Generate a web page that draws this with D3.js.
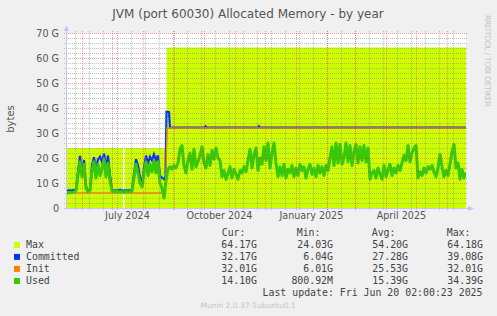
<!DOCTYPE html>
<html><head><meta charset="utf-8">
<script src="https://cdn.jsdelivr.net/npm/d3@7"></script>
<style>html,body{margin:0;padding:0;background:#F0F0F0}svg{display:block}</style>
</head><body>
<svg id="c" width="497" height="316"></svg>
<script>
// ---------------- data ----------------
const titleText = "JVM (port 60030) Allocated Memory - by year";
const yAxisLabel = "bytes";
const endTime = new Date(Date.UTC(2025, 5, 20, 2, 0, 23));
const spanDays = 400;
const usedStepDays = 2;
const yTickValues = [0, 10, 20, 30, 40, 50, 60, 70];
const yTickLabels = ["0", "10 G", "20 G", "30 G", "40 G", "50 G", "60 G", "70 G"];
const xLabelDates = ["2024-07-16", "2024-10-16", "2025-01-16", "2025-04-16"];
const xTickLabels = ["July 2024", "October 2024", "January 2025", "April 2025"];

const seriesNames = ["Max", "Committed", "Init", "Used"];
const statCur = ["64.17G", "32.17G", "32.01G", "14.10G"];
const statMin = ["24.03G", "6.04G", "6.01G", "800.92M"];
const statAvg = ["54.20G", "27.28G", "25.53G", "15.39G"];
const statMax = ["64.18G", "39.08G", "32.01G", "34.39G"];
const lastUpdate = "Last update: Fri Jun 20 02:00:23 2025";
const versionText = "Munin 2.0.37-1ubuntu0.1";
const vendorText = "RRDTOOL / TOBI OETIKER";

// Max (GB) — breakpoints (day offset from start)
const maxDay = [0, 57, 57, 58.7, 100.5, 100.5, 400];
const maxVal = [24.03, 24.03, null, 24.03, 24.03, 64.17, 64.17];

// Init (GB)
const initDay = [0, 99.5, 101, 400];
const initVal = [6.01, 6.01, 32.01, 32.01];

// Committed (GB)
const committedDay = [0,2,4,6,8,10,12,14,16,18,20,22,24,26,28,30,32,34,36,38,40,42,44,46,48,50,52,54,56,58,60,62,64,66,68,70,72,74,76,78,80,82,84,86,88,90,92,94,96,98,99.5,100.5,103,104,139,139.7,140.5,192.5,193,194,400];
const committedVal = [7.1,7.0,7.1,7.0,7.2,7.4,14.5,20.8,14.0,19.2,8.5,7.1,7.3,17.0,20.3,15.5,19.5,20.5,18.5,21.8,16.0,21.0,13.0,7.2,7.0,7.1,7.0,7.2,7.0,7.0,7.1,7.0,7.1,7.3,13.5,19.5,17.0,12.5,9.5,16.0,21.0,18.0,20.5,19.0,21.5,19.0,21.0,13.0,12.0,11.5,12.5,38.5,38.3,32.17,32.17,32.6,32.17,32.17,32.6,32.17,32.17];

// Used (GB), one value every 2 days
const usedVal = [
  6.2,6.0,6.3,6.1,6.5,7.0,13.0,18.5,12.5,17.5,
  8.0,6.5,7.0,15.0,18.5,12.0,17.5,13.0,16.0,19.5,
  12.5,18.0,11.0,6.8,6.5,6.7,6.4,6.6,6.5,6.3,
  6.6,6.4,6.5,6.8,12.0,17.5,14.0,10.0,8.5,14.0,
  18.5,13.0,17.5,14.5,19.0,14.0,18.5,10.0,8.0,4.0,
  11.0,
  15.5,16.5,15.5,17.0,16.0,18.0,23.5,25.0,17.0,14.0,
  19.0,22.0,15.5,23.5,16.5,18.5,21.0,24.5,18.0,16.0,
  21.5,17.0,23.0,19.5,24.0,20.0,19.0,12.5,15.0,11.5,
  14.0,16.5,12.0,15.5,13.5,11.5,15.0,14.0,16.5,14.5,
  19.0,23.5,16.0,21.5,24.0,15.0,20.0,17.5,24.5,19.0,
  26.0,16.0,22.0,26.0,18.0,12.5,16.5,13.0,17.5,12.0,
  15.5,14.0,17.0,12.5,16.0,13.0,17.5,15.0,16.5,12.0,
  15.5,17.5,13.5,16.0,12.5,17.0,14.0,16.5,13.0,17.0,
  15.0,20.0,24.5,17.0,26.0,18.0,25.5,17.5,20.0,26.0,
  18.5,25.0,17.0,22.5,25.5,18.0,24.5,19.0,25.0,18.5,
  24.0,11.5,14.0,15.0,12.0,16.0,13.5,11.5,17.0,12.5,
  15.0,17.5,13.0,16.0,14.0,17.0,15.0,18.0,21.0,19.0,
  25.0,18.5,22.0,24.0,25.0,12.0,14.5,13.0,16.0,14.0,
  16.5,15.5,17.0,14.5,12.5,16.0,21.5,16.5,12.5,15.0,
  13.0,17.5,22.5,25.5,16.0,18.0,11.5,15.5,12.0,14.1
];

// ---------------- style ----------------
const colors = {Max: "#CCFF00", Committed: "#0033FF", Init: "#FF7F00", Used: "#33CC00"};
const fontSans = "'DejaVu Sans', Verdana, sans-serif";
const fontMono = "'DejaVu Sans Mono', monospace";

// ---------------- layout ----------------
const X0 = 66, X1 = 466, YT = 33, YB = 208;
const start = new Date(endTime.getTime() - spanDays * 864e5);
const dayDate = d => new Date(start.getTime() + d * 864e5);

const x = d3.scaleUtc().domain([start, endTime]).range([X0, X1]);
const y = d3.scaleLinear().domain([0, 70]).range([YB, YT]);

const svg = d3.select("#c");
svg.append("rect").attr("width", 497).attr("height", 316).attr("fill", "#F0F0F0");
svg.append("rect").attr("x", X0).attr("y", YT).attr("width", X1 - X0).attr("height", YB - YT).attr("fill", "#FFFFFF");

svg.append("clipPath").attr("id", "clip").append("rect")
  .attr("x", X0).attr("y", YT - 8).attr("width", X1 - X0).attr("height", YB - YT + 8);

const plot = svg.append("g").attr("clip-path", "url(#clip)");

// Max area
const maxData = maxDay.map((d, i) => ({t: dayDate(d), v: maxVal[i]}));
plot.append("path")
  .datum(maxData)
  .attr("fill", colors.Max)
  .attr("d", d3.area().defined(d => d.v != null).x(d => x(d.t)).y0(y(0)).y1(d => y(d.v)));

// Grid
const grid = svg.append("g");
const minorY = y.ticks(35).filter(v => v % 10 !== 0);
const crisp = v => Math.round(v) + 0.5;
grid.selectAll("line.hmin").data(minorY).enter().append("line")
  .attr("x1", X0 - 2).attr("x2", X1 + 2)
  .attr("y1", d => crisp(y(d))).attr("y2", d => crisp(y(d)))
  .attr("stroke", "rgba(140,140,140,0.55)").attr("stroke-dasharray", "1,1");
const minorX = d3.utcDay.range(new Date(Date.UTC(2024, 4, 25)), endTime, 1).filter((d, i) => i % 14 === 0);
grid.selectAll("line.vmin").data(minorX).enter().append("line")
  .attr("y1", YT - 2).attr("y2", YB + 2)
  .attr("x1", d => crisp(x(d))).attr("x2", d => crisp(x(d)))
  .attr("stroke", "rgba(140,140,140,0.55)").attr("stroke-dasharray", "1,1");
grid.selectAll("line.hmaj").data(yTickValues.filter(v => v > 0)).enter().append("line")
  .attr("x1", X0 - 2).attr("x2", X1 + 2)
  .attr("y1", d => crisp(y(d))).attr("y2", d => crisp(y(d)))
  .attr("stroke", "rgba(255,40,40,0.45)").attr("stroke-dasharray", "1,1");
const months = d3.utcMonth.range(d3.utcMonth.ceil(start), endTime);
grid.selectAll("line.vmaj").data(months).enter().append("line")
  .attr("y1", YT - 2).attr("y2", YB + 2)
  .attr("x1", d => crisp(x(d))).attr("x2", d => crisp(x(d)))
  .attr("stroke", "rgba(255,40,40,0.45)").attr("stroke-dasharray", "1,1");

// Lines
const committedData = committedDay.map((d, i) => ({t: dayDate(d), v: committedVal[i]}));
const initData = initDay.map((d, i) => ({t: dayDate(d), v: initVal[i]}));
const usedData = usedVal.map((v, i) => ({t: dayDate(i * usedStepDays), v}));
const line = d3.line().x(d => x(d.t)).y(d => y(d.v));
plot.append("path").datum(committedData).attr("fill", "none").attr("stroke", colors.Committed).attr("stroke-width", 2.2).attr("d", line);
plot.append("path").datum(initData).attr("fill", "none").attr("stroke", colors.Init).attr("stroke-width", 1.4).attr("d", line);
plot.append("path").datum(usedData).attr("fill", "none").attr("stroke", colors.Used).attr("stroke-width", 3).attr("stroke-linejoin", "round").attr("d", line);

// Axes lines + arrows
const axisColor = "#C4C4F4";
svg.append("line").attr("x1", X0 + 0.5).attr("x2", X0 + 0.5).attr("y1", YB + 2).attr("y2", 29).attr("stroke", axisColor);
svg.append("path").attr("d", `M${X0 - 2},31 L${X0 + 3},31 L${X0 + 0.5},25 Z`).attr("fill", axisColor);
svg.append("line").attr("x1", X0 - 2).attr("x2", X1 + 4).attr("y1", YB + 0.5).attr("y2", YB + 0.5).attr("stroke", axisColor);
svg.append("path").attr("d", `M${X1 + 2},${YB - 2} L${X1 + 2},${YB + 3} L${X1 + 8},${YB + 0.5} Z`).attr("fill", axisColor);

// Y axis labels
const yAxis = d3.axisLeft(y).tickValues(yTickValues).tickSize(0).tickPadding(0)
  .tickFormat((d, i) => yTickLabels[i]);
const yg = svg.append("g").attr("transform", `translate(59,0)`).call(yAxis);
yg.select(".domain").remove();
yg.selectAll("text").attr("font-family", fontSans).attr("font-size", 9.6).attr("fill", "#555555").attr("dy", "0.36em");

// X axis labels
const xAxis = d3.axisBottom(x).tickValues(xLabelDates.map(s => new Date(s + "T00:00:00Z"))).tickSize(0).tickPadding(0)
  .tickFormat((d, i) => xTickLabels[i]);
const xg = svg.append("g").attr("transform", `translate(0,212.5)`).call(xAxis);
xg.select(".domain").remove();
xg.selectAll("text").attr("font-family", fontSans).attr("font-size", 9.6).attr("fill", "#555555").attr("dy", "0.71em");

// Title
svg.append("text").attr("x", 248).attr("y", 18.3).attr("text-anchor", "middle")
  .attr("font-family", fontSans).attr("font-size", 12).attr("fill", "#555555").text(titleText);
// y label
svg.append("text").attr("transform", "translate(14,119) rotate(-90)").attr("text-anchor", "middle")
  .attr("font-family", fontSans).attr("font-size", 10).attr("fill", "#555555").text(yAxisLabel);
// vendor
svg.append("text").attr("transform", "translate(485,15) rotate(90)").attr("text-anchor", "start")
  .attr("font-family", fontSans).attr("font-size", 7.8).attr("fill", "#C4C4C4")
  .attr("textLength", 92).attr("lengthAdjust", "spacing").text(vendorText);

// Legend
const leg = svg.append("g").attr("font-family", fontMono).attr("font-size", 9.9).attr("fill", "#444444");
const headX = [221.7, 296.7, 371.7, 446.7];
["Cur:", "Min:", "Avg:", "Max:"].forEach((h, i) => leg.append("text").attr("x", headX[i]).attr("y", 235.7).text(h));
const rowY = [248.3, 260.2, 272.2, 284.3];
const valX = [257, 333, 408, 483];
seriesNames.forEach((n, i) => {
  leg.append("rect").attr("x", 14).attr("y", rowY[i] - 6.3).attr("width", 6).attr("height", 6).attr("fill", colors[n]);
  leg.append("text").attr("x", 26).attr("y", rowY[i]).text(n);
  [statCur, statMin, statAvg, statMax].forEach((arr, j) => {
    leg.append("text").attr("x", valX[j]).attr("y", rowY[i]).attr("text-anchor", "end").text(arr[i]);
  });
});
leg.append("text").attr("x", 482.5).attr("y", 296.2).attr("text-anchor", "end").text(lastUpdate);
svg.append("text").attr("x", 248).attr("y", 308).attr("text-anchor", "middle")
  .attr("font-family", fontSans).attr("font-size", 7.5).attr("fill", "#C4C4C4").text(versionText);
</script>
</body></html>
